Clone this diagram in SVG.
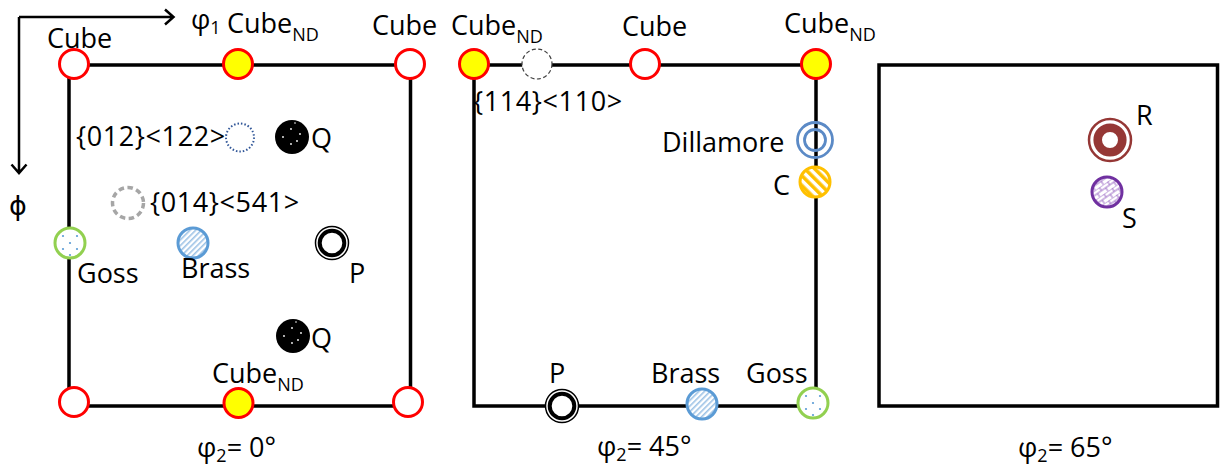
<svg xmlns="http://www.w3.org/2000/svg" xmlns:xlink="http://www.w3.org/1999/xlink" width="1220" height="470" viewBox="0 0 1220 470">
<style>
text{font-family:"Open Sans","DejaVu Sans",sans-serif;font-size:27px;fill:#000}
.sub{font-size:18px}
.br{letter-spacing:0.6px}
.box{fill:none;stroke:#000;stroke-width:3.5}
.ax{fill:none;stroke:#000;stroke-width:2.5}
.red{fill:#fff;stroke:#f00;stroke-width:3}
.nd{fill:#ff0;stroke:#f00;stroke-width:3}
</style>
<defs>
<pattern id="hBrass" patternUnits="userSpaceOnUse" width="4" height="4" patternTransform="rotate(45)">
<rect width="4" height="4" fill="#fff"/><rect width="1.6" height="4" fill="#9dc3e6"/>
</pattern>
<pattern id="hC" patternUnits="userSpaceOnUse" width="7" height="7" patternTransform="rotate(-45)">
<rect width="7" height="7" fill="#fff"/><rect width="3.6" height="7" fill="#ffc000"/>
</pattern>
<pattern id="hS" patternUnits="userSpaceOnUse" width="10" height="8" patternTransform="rotate(-35)">
<rect width="10" height="8" fill="#fff"/>
<path d="M0 0H10M0 4H10M3 0V4M8 4V8" stroke="#a070c8" stroke-width="1" fill="none"/>
</pattern>
<g id="mCube"><circle r="14.5" class="red"/></g>
<g id="mND"><circle r="14.5" class="nd"/></g>
<g id="mGoss"><circle r="15" fill="#fff" stroke="#92d050" stroke-width="3"/>
<g fill="#5b9bd5"><circle cx="-7" cy="-7" r="1.1"/><circle cx="7" cy="-7" r="1.1"/><circle cx="0" cy="0" r="1.1"/><circle cx="-7" cy="6" r="1.1"/><circle cx="7" cy="6" r="1.1"/><circle cx="0" cy="12" r="1.1"/></g></g>
<g id="mBrass"><circle r="15" fill="url(#hBrass)" stroke="#5b9bd5" stroke-width="3"/></g>
<g id="mQ"><circle r="17" fill="#000"/>
<g fill="#fff"><circle cx="-9" cy="0" r="0.9"/><circle cx="-1" cy="-8" r="0.9"/><circle cx="8" cy="-3" r="0.9"/><circle cx="5" cy="4" r="0.9"/><circle cx="-1" cy="7" r="0.9"/><circle cx="3" cy="-14" r="0.8"/></g></g>
<g id="mP"><circle r="16.5" fill="#fff" stroke="#000" stroke-width="1.5"/><circle r="12.3" fill="#fff" stroke="#000" stroke-width="4"/></g>
</defs>

<g id="connectors">
<path class="ax" d="M19 17H173M165 9.5L173.5 17L165 24.5"/>
<path class="ax" d="M19 17V172M11.5 164.5L19 173L26.5 164.5"/>
</g>

<g id="axis-labels">
<text x="191" y="29">φ<tspan class="sub" dy="5">1</tspan></text>
<text x="9" y="215" style="font-family:'DejaVu Sans',sans-serif;font-size:27px">ϕ</text>
</g>

<g id="panel-0">
<rect class="box" x="69" y="65" width="341.5" height="341"/>
<text x="197" y="457">φ<tspan class="sub" dy="5">2</tspan><tspan dy="-5">= 0°</tspan></text>
</g>
<g id="p0-cube-tl"><use xlink:href="#mCube" x="74" y="64"/><text x="47" y="48">Cube</text></g>
<g id="p0-cubend-t"><use xlink:href="#mND" x="238" y="64"/><text x="227" y="33">Cube<tspan class="sub" dy="8">ND</tspan></text></g>
<g id="p0-cube-tr"><use xlink:href="#mCube" x="410" y="64"/><text x="372" y="35">Cube</text></g>
<g id="p0-012"><circle cx="240" cy="137.5" r="14" fill="#fff" stroke="#2f5597" stroke-width="2" stroke-dasharray="1.5 2"/><text class="br" x="76" y="146">{012}&lt;122&gt;</text></g>
<g id="p0-q1"><use xlink:href="#mQ" x="292" y="137"/><text x="311" y="148">Q</text></g>
<g id="p0-014"><circle cx="128" cy="203" r="15.5" fill="#fff" stroke="#a6a6a6" stroke-width="3.5" stroke-dasharray="5.5 3.5"/><text class="br" x="150" y="212">{014}&lt;541&gt;</text></g>
<g id="p0-goss"><use xlink:href="#mGoss" x="70" y="243"/><text x="77" y="283">Goss</text></g>
<g id="p0-brass"><use xlink:href="#mBrass" x="193" y="243"/><text x="181" y="278">Brass</text></g>
<g id="p0-p"><use xlink:href="#mP" x="332" y="243"/><text x="349" y="283">P</text></g>
<g id="p0-q2"><use xlink:href="#mQ" x="293" y="336"/><text x="311" y="348">Q</text></g>
<g id="p0-cube-bl"><use xlink:href="#mCube" x="74" y="402"/></g>
<g id="p0-cubend-b"><use xlink:href="#mND" x="238.5" y="403"/><text x="212" y="383">Cube<tspan class="sub" dy="8">ND</tspan></text></g>
<g id="p0-cube-br"><use xlink:href="#mCube" x="408" y="402"/></g>

<g id="panel-45">
<rect class="box" x="474" y="65" width="342" height="341"/>
<text x="597" y="456">φ<tspan class="sub" dy="5">2</tspan><tspan dy="-5">= 45°</tspan></text>
</g>
<g id="p45-cubend-tl"><use xlink:href="#mND" x="474" y="64"/><text x="451" y="35">Cube<tspan class="sub" dy="8">ND</tspan></text></g>
<g id="p45-114"><circle cx="537" cy="64" r="15" fill="#fff" stroke="#404040" stroke-width="1.2" stroke-dasharray="4 2.5"/><text class="br" x="473" y="111">{114}&lt;110&gt;</text></g>
<g id="p45-cube-t"><use xlink:href="#mCube" x="645" y="64"/><text x="622" y="36">Cube</text></g>
<g id="p45-cubend-tr"><use xlink:href="#mND" x="816" y="64"/><text x="784" y="33">Cube<tspan class="sub" dy="8">ND</tspan></text></g>
<g id="p45-dillamore"><circle cx="815" cy="140" r="17.5" fill="none" stroke="#5b8ac6" stroke-width="2.8"/><circle cx="815" cy="140" r="10.5" fill="none" stroke="#5b8ac6" stroke-width="2.8"/><text x="662" y="152">Dillamore</text></g>
<g id="p45-c"><circle cx="815" cy="182" r="15" fill="url(#hC)" stroke="#ffc000" stroke-width="3"/><text x="773" y="195">C</text></g>
<g id="p45-p"><use xlink:href="#mP" x="562" y="406"/><text x="549" y="383">P</text></g>
<g id="p45-brass"><use xlink:href="#mBrass" x="702" y="404"/><text x="651" y="383">Brass</text></g>
<g id="p45-goss"><use xlink:href="#mGoss" x="813" y="403"/><text x="746" y="383">Goss</text></g>

<g id="panel-65">
<rect class="box" x="879" y="65" width="338.5" height="341"/>
<text x="1018" y="457">φ<tspan class="sub" dy="5">2</tspan><tspan dy="-5">= 65°</tspan></text>
</g>
<g id="p65-r"><circle cx="1110" cy="140" r="21" fill="#fff" stroke="#953735" stroke-width="2.5"/><circle cx="1110" cy="140" r="12.3" fill="#fff" stroke="#953735" stroke-width="8.6"/><text x="1136" y="125">R</text></g>
<g id="p65-s"><circle cx="1107" cy="192" r="15" fill="url(#hS)" stroke="#7030a0" stroke-width="3"/><text x="1122" y="228">S</text></g>
</svg>
